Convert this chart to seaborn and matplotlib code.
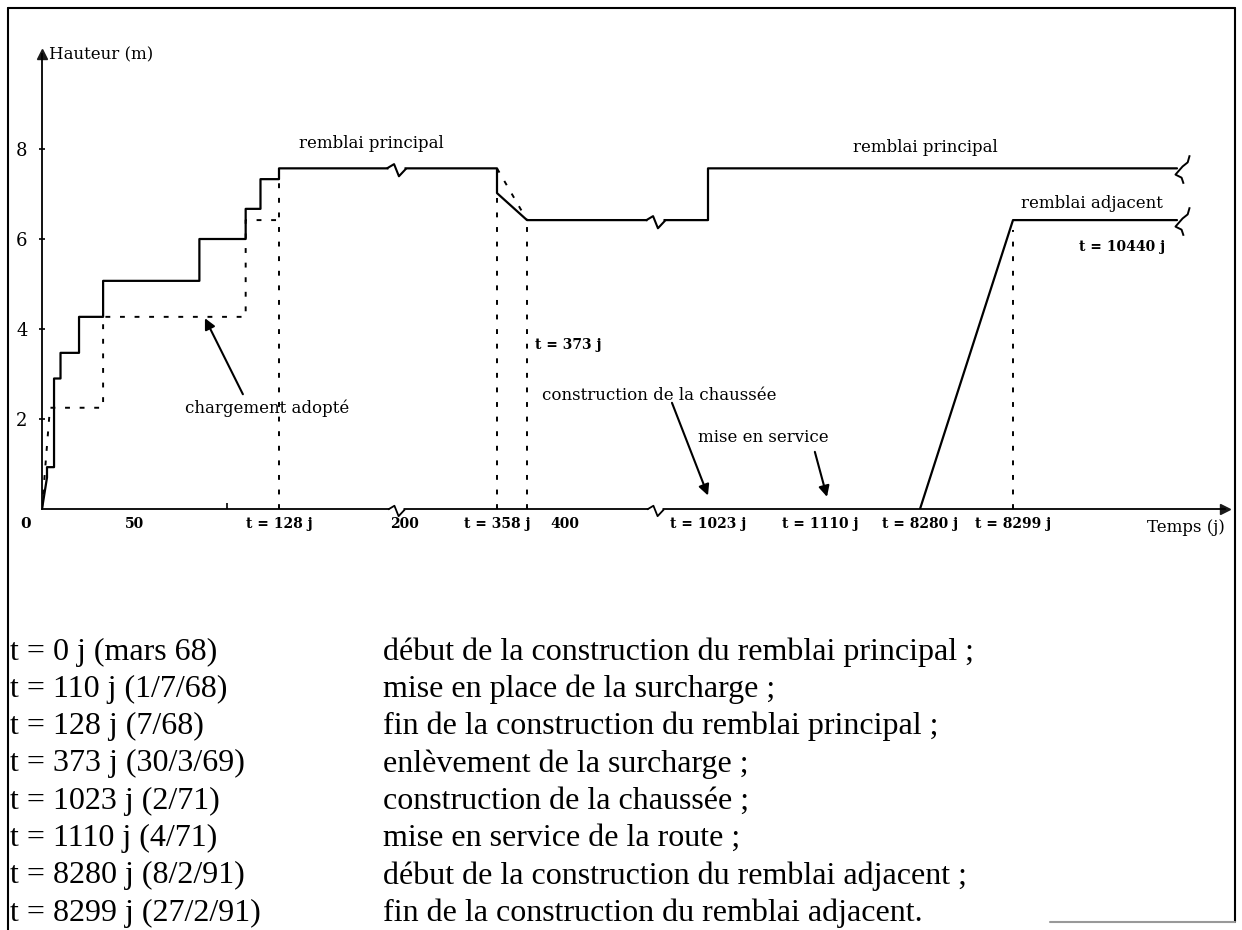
import numpy as np
import seaborn as sns
import matplotlib.pyplot as plt
from matplotlib.path import Path
from matplotlib.lines import Line2D

# loading history: t in days, h in metres
main_t = [0, 2.7, 2.7, 6.5, 6.5, 10, 10, 20, 20, 33, 33, 85, 85, 110, 110, 118, 118, 128, 128,
          358, 358, 373, 1023, 1023, 10440]
main_h = [0, 0.7, 0.93, 0.93, 2.9, 2.9, 3.47, 3.47, 4.27, 4.27, 5.07, 5.07, 6.0, 6.0, 6.67, 6.67,
          7.33, 7.33, 7.57, 7.57, 7.02, 6.42, 6.42, 7.57, 7.57]

adopt_t = [0, 4.3, 33, 33, 110, 110, 128]
adopt_h = [0, 2.25, 2.25, 4.27, 4.27, 6.42, 6.42]

removal_t = [358, 373]
removal_h = [7.57, 6.42]

adj_t = [8280, 8299, 10440]
adj_h = [0, 6.42, 6.42]

guide_t = [128, 358, 373, 8299]
guide_top = [7.45, 6.9, 6.3, 6.2]

break_t = [195, 792]
break_h = [7.57, 6.42]
end_h = [7.57, 6.42]

tick_t = [50, 128, 200, 358, 400, 1023, 1110, 8280, 8299]
tick_lab = ['50', 't = 128 j', '200', 't = 358 j', '400', 't = 1023 j', 't = 1110 j',
            't = 8280 j', 't = 8299 j']
mark_t = [50, 100]
y_ticks = [2, 4, 6, 8]

event_dates = ['t = 0 j (mars 68)', 't = 110 j (1/7/68)', 't = 128 j (7/68)',
               't = 373 j (30/3/69)', 't = 1023 j (2/71)', 't = 1110 j (4/71)',
               't = 8280 j (8/2/91)', 't = 8299 j (27/2/91)']
event_desc = ['début de la construction du remblai principal ;',
              'mise en place de la surcharge ;',
              'fin de la construction du remblai principal ;',
              'enlèvement de la surcharge ;',
              'construction de la chaussée ;',
              'mise en service de la route ;',
              'début de la construction du remblai adjacent ;',
              'fin de la construction du remblai adjacent.']

# broken time axis: piecewise linear position along the axis
scale_t = [0, 128, 200, 358, 373, 400, 1023, 1110, 8280, 8299, 10440, 11000]
scale_p = [42, 279, 405, 497, 527, 565, 708, 820, 920, 1013, 1177, 1225]


def fwd(t):
    return np.interp(t, scale_t, scale_p)


def inv(p):
    return np.interp(p, scale_p, scale_t)


sns.set_theme(style='white')
plt.rcParams['font.family'] = ['DejaVu Serif']
for k in ['text.color', 'axes.labelcolor', 'xtick.color', 'ytick.color']:
    plt.rcParams[k] = 'black'

W, H = 1242, 930
fig = plt.figure(figsize=(W / 100, H / 100), dpi=100)
ax = fig.add_axes([42 / W, (H - 509) / H, (1225 - 42) / W, 10.1 * 45 / H])
ax.set_xscale('function', functions=(fwd, inv))
ax.set_xlim(0, 11000)
ax.set_ylim(0, 10.1)
ax.patch.set_alpha(0)

for s in ['top', 'right']:
    ax.spines[s].set_visible(False)
for s in ['left', 'bottom']:
    ax.spines[s].set_color('black')
    ax.spines[s].set_linewidth(1.3)
ax.plot(1, 0, '>k', ms=7, transform=ax.get_yaxis_transform(), clip_on=False)
ax.plot(0, 1, '^k', ms=7, transform=ax.get_xaxis_transform(), clip_on=False)

dash = (0, (2.5, 5))
sns.lineplot(x=main_t, y=main_h, sort=False, estimator=None, color='black', lw=1.6, ax=ax)
sns.lineplot(x=adj_t, y=adj_h, sort=False, estimator=None, color='black', lw=1.6, ax=ax)
sns.lineplot(x=adopt_t, y=adopt_h, sort=False, estimator=None, color='black', lw=1.4,
             linestyle=dash, ax=ax)
sns.lineplot(x=removal_t, y=removal_h, sort=False, estimator=None, color='black', lw=1.4,
             linestyle=dash, ax=ax)
for t, top in zip(guide_t, guide_top):
    ax.plot([t, t], [0, top], color='black', lw=1.4, linestyle=dash)

# break marks on the lines and on the time axis
zig = Path([(-1, 0), (-0.25, 0.45), (0.25, -0.8), (1, 0)])
ax.plot(break_t, break_h, ls='none', marker='_', ms=12, mew=5, color='white', zorder=4)
ax.plot(break_t, break_h, ls='none', marker=zig, ms=14, mew=1.5, mfc='none', color='black', zorder=5)
ax.plot(break_t, [0, 0], ls='none', marker='_', ms=10, mew=5, color='white', zorder=4, clip_on=False)
ax.plot(break_t, [0, 0], ls='none', marker=zig, ms=12, mew=1.3, mfc='none', color='black',
        zorder=5, clip_on=False)

# wavy ends of the two embankment lines
brace = Path([(12, 13), (10, 6), (5, 2), (-2, -6), (4, -9), (6, -15)])
ax.plot([10440, 10440], end_h, ls='none', marker=brace, ms=22, mew=1.4, mfc='none',
        color='black', clip_on=False)

ax.set_xticks(tick_t, tick_lab)
ax.set_xticks(mark_t, minor=True)
ax.tick_params(axis='x', which='major', length=0, pad=6, labelsize=10)
ax.tick_params(axis='x', which='minor', direction='in', length=4, width=1.2, bottom=True)
for lab in ax.get_xticklabels():
    lab.set_fontweight('bold')
ax.set_yticks(y_ticks)
ax.tick_params(axis='y', direction='inout', length=5, width=1.2, left=True, pad=8, labelsize=13)

txt = dict(fontsize=12, color='black')
ax.annotate('Hauteur (m)', xy=(0, 10.1), xytext=(5, 0), textcoords='offset points',
            va='center', ha='left', **txt)
ax.annotate('Temps (j)', xy=(11000, 0), xytext=(0, -7), textcoords='offset points',
            va='top', ha='right', **txt)
ax.annotate('0', xy=(0, 0), xytext=(-8, -6), textcoords='offset points',
            va='top', ha='right', fontweight='bold', fontsize=11)

ax.text(181, 8.13, 'remblai principal', ha='center', va='center', **txt)
ax.text(8281, 8.04, 'remblai principal', ha='center', va='center', **txt)
ax.text(9330, 6.8, 'remblai adjacent', ha='center', va='center', **txt)
ax.text(10283, 5.82, 't = 10440 j', ha='right', va='center', fontsize=10, fontweight='bold')
ax.text(379, 3.64, 't = 373 j', ha='left', va='center', fontsize=10, fontweight='bold')
ax.text(121.5, 2.24, 'chargement adopté', ha='center', va='center', **txt)
ax.text(384, 2.53, 'construction de la chaussée', ha='left', va='center', **txt)
ax.text(979, 1.58, 'mise en service', ha='left', va='center', **txt)

arrow = dict(arrowstyle='-|>', color='black', lw=1.5, mutation_scale=16, shrinkA=0, shrinkB=0)
ax.annotate('', xy=(88, 4.24), xytext=(108.5, 2.55), arrowprops=arrow)
ax.annotate('', xy=(1023, 0.3), xytext=(866, 2.36), arrowprops=arrow)
ax.annotate('', xy=(1612, 0.27), xytext=(1106, 1.27), arrowprops=arrow)

# event table below the chart
for i, (d, e) in enumerate(zip(event_dates, event_desc)):
    y = 1 - (652 + i * 37.3) / H
    fig.text(10 / W, y, d, family='Liberation Serif', fontsize=23, va='center', ha='left',
             color='black')
    fig.text(383 / W, y, e, family='Liberation Serif', fontsize=23, va='center', ha='left',
             color='black')

# frame around the whole figure (bottom edge only partly visible in the scan)
frame = [([8, 8], [8, 930], 'black'), ([8, 1235], [8, 8], 'black'),
         ([1235, 1235], [8, 922], 'black'), ([1050, 1235], [922, 922], '0.6')]
for xs, ys, c in frame:
    fig.add_artist(Line2D([x / W for x in xs], [1 - y / H for y in ys], color=c, lw=1.5,
                          transform=fig.transFigure))

fig.savefig('out.png', dpi=100)
